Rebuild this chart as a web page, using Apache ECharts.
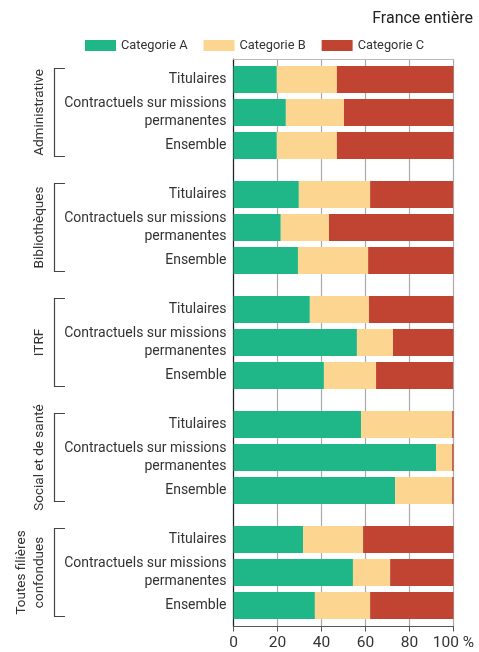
<!DOCTYPE html>
<html>
<head>
<meta charset="utf-8">
<script src="https://cdn.jsdelivr.net/npm/echarts@6/dist/echarts.min.js"></script>
<style>
html, body { margin: 0; padding: 0; background: #fff; }
#chart { width: 479px; height: 652px; }
</style>
</head>
<body>
<div id="chart"></div>
<script>
var FONT = 'Roboto, sans-serif';

// groupes (filières) et lignes
var groups = ['Administrative', 'Bibliothèques', 'ITRF', 'Social et de santé', 'Toutes filières\nconfondues'];
var rows = ['Titulaires', 'Contractuels sur missions\npermanentes', 'Ensemble'];
var cats = ['Categorie A', 'Categorie B', 'Categorie C'];
var colors = ['#1fb787', '#fcd690', '#c14331'];

// valeurs en %, une liste par ligne et par catégorie (ordre des groupes)
var titA = [19.7, 29.7, 34.7, 58.0, 31.6];
var titB = [27.3, 32.4, 26.9, 41.4, 27.3];
var titC = [53.0, 37.7, 38.4, 0.6, 41.1];

var conA = [23.8, 21.5, 56.1, 92.1, 54.3];
var conB = [26.4, 21.9, 16.4, 7.3, 16.9];
var conC = [49.8, 56.6, 27.5, 0.6, 28.8];

var ensA = [19.7, 29.3, 41.1, 73.5, 37.0];
var ensB = [27.3, 31.9, 23.7, 25.9, 25.1];
var ensC = [53.0, 38.8, 35.0, 0.6, 37.9];

var stacks = [
	{ id: 'tit', values: [titA, titB, titC] },
	{ id: 'con', values: [conA, conB, conC] },
	{ id: 'ens', values: [ensA, ensB, ensC] }
];

var series = [];
stacks.forEach(function(s) {
	s.values.forEach(function(vals, i) {
		series.push({
			name: cats[i],
			type: 'bar',
			stack: s.id,
			xAxisIndex: 2,
			yAxisIndex: 1,
			barWidth: 27,
			barGap: '22%',
			itemStyle: { color: colors[i] },
			data: vals
		});
	});
});

// accolades et libellés des filières
series.push({
	type: 'custom',
	xAxisIndex: 2,
	yAxisIndex: 1,
	silent: true,
	clip: false,
	data: groups.map(function(g, i) { return [0, i]; }),
	renderItem: function(params, api) {
		var p = api.coord([0, api.value(1)]);
		var x = p[0] - 179, y = p[1];
		return {
			type: 'group',
			children: [{
				type: 'polyline',
				shape: { points: [[x + 10.5, y - 44], [x, y - 44], [x, y + 44], [x + 10.5, y + 44]] },
				style: { stroke: '#444', lineWidth: 1.2, fill: null }
			}, {
				type: 'text',
				x: p[0] - 185,
				y: y,
				rotation: Math.PI / 2,
				style: {
					text: groups[params.dataIndex],
					font: '13.5px ' + FONT,
					fill: '#333',
					align: 'center',
					verticalAlign: 'bottom',
					lineHeight: 18
				}
			}]
		};
	}
});

var myChart = echarts.init(document.getElementById('chart'));
myChart.setOption({
	animation: false,
	textStyle: { fontFamily: FONT },
	title: {
		text: 'France entière',
		right: 6,
		top: 11,
		padding: 0,
		textStyle: { fontSize: 16, fontWeight: 'normal', color: '#222', fontFamily: FONT }
	},
	legend: {
		data: cats,
		left: 85,
		top: 39,
		padding: 0,
		width: 390,
		icon: 'rect',
		itemWidth: 31,
		itemHeight: 11,
		itemGap: 16,
		textStyle: { fontSize: 12.8, color: '#333', fontFamily: FONT }
	},
	grid: [
		{ left: 233.5, right: 25.5, top: 59, bottom: 25.5 },
		{ left: 233.5, right: 25.5, top: 55, height: 575 }
	],
	xAxis: [{
		gridIndex: 0,
		type: 'value',
		min: 0,
		max: 100,
		interval: 20,
		axisLine: { show: true, lineStyle: { color: '#555', width: 1.2 } },
		axisTick: { show: true, length: 5, lineStyle: { color: '#555' } },
		splitLine: { show: true, lineStyle: { color: '#aaa', width: 1.2 } },
		axisLabel: {
			fontSize: 15.5,
			color: '#333',
			margin: 9,
			fontFamily: FONT,
			formatter: function(v) { return v === 100 ? '100 %' : String(v); }
		}
	}, {
		gridIndex: 0,
		type: 'value',
		position: 'top',
		min: 0,
		max: 100,
		axisLine: { show: true, lineStyle: { color: '#bbb', width: 1.2 } },
		axisTick: { show: false },
		axisLabel: { show: false },
		splitLine: { show: false }
	}, {
		gridIndex: 1,
		type: 'value',
		min: 0,
		max: 100,
		show: false
	}],
	yAxis: [{
		gridIndex: 0,
		type: 'value',
		min: 0,
		max: 1,
		axisLine: { show: true, lineStyle: { color: '#222', width: 1.2 } },
		axisTick: { show: false },
		axisLabel: { show: false },
		splitLine: { show: false }
	}, {
		gridIndex: 1,
		type: 'category',
		inverse: true,
		data: groups,
		axisLine: { show: false },
		axisTick: { show: false },
		axisLabel: {
			margin: 7,
			fontSize: 14,
			color: '#333',
			fontFamily: FONT,
			formatter: function() {
				var c = rows[1].split('\n');
				return '{t|' + rows[0] + '}\n{c|' + c[0] + '}\n{c|' + c[1] + '}\n{t|' + rows[2] + '}';
			},
			rich: {
				t: { fontSize: 14, lineHeight: 30, color: '#333', fontFamily: FONT, align: 'right' },
				c: { fontSize: 14, lineHeight: 18, color: '#333', fontFamily: FONT, align: 'right' }
			}
		}
	}],
	series: series
});
</script>
</body>
</html>
